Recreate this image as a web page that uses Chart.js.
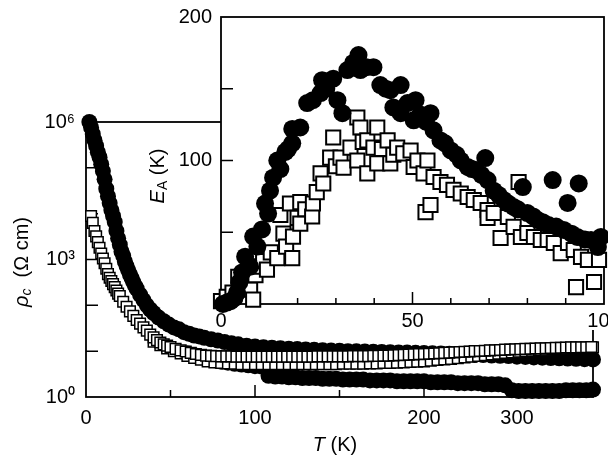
<!DOCTYPE html>
<html>
<head>
<meta charset="utf-8">
<script src="https://cdn.jsdelivr.net/npm/chart.js@4/dist/chart.umd.min.js"></script>
<style>
  body { margin: 0; background: #fff; }
  #wrap { position: relative; width: 608px; height: 461px; }
  #main { position: absolute; left: 0; top: 0; }
  #inset { position: absolute; left: 130px; top: 0; }
</style>
</head>
<body>
<div id="wrap">
  <canvas id="main" width="608" height="461"></canvas>
  <canvas id="inset" width="478" height="340"></canvas>
</div>
<script>
// ---- main plot: rho_c (Ohm cm) vs T (K) ----
// filled circles, upper branch
var circUpT = [2,3,4,5,6,7,8,9,10,11,12,13,14,15,16,17,18,19,20,21,22,23,24,25,26,27,28,29,30,
  32,34,36,38,40,43,46,49,52,55,58,61,64,67,70,74,78,82,86,90,
  95,100,105,110,115,120,125,130,135,140,145,150,155,160,165,170,175,180,185,190,195,200,
  205,210,215,220,225,230,235,240,245,250,255,260,265,270,275,280,285,290,295,300];
var circUpRho = [1.0e6,7.6e5,5.5e5,4.0e5,3.0e5,2.2e5,1.7e5,1.2e5,8.5e4,5.6e4,3.5e4,2.4e4,1.7e4,1.2e4,8.9e3,6.6e3,4.2e3,2.9e3,2.1e3,1.5e3,
  1.2e3,910,720,580,470,390,320,270,230,
  170,130,100,81,68,54,45,38,33,30,26,24,22,21,19.5,18.2,17,15.8,14.8,14.1,
  13.2,12.6,12.2,11.9,11.6,11.3,11.1,10.9,10.7,10.5,10.3,10.2,10.0,9.9,9.8,9.7,9.6,9.5,9.4,9.3,9.2,9.1,
  9.0,8.9,8.8,8.6,8.5,8.3,8.2,8.0,7.9,7.8,7.6,7.5,7.3,7.2,7.1,7.0,6.9,6.8,6.7,6.6];

// filled circles, lower branch (steps near 107 K and 250 K)
var circLoT = [60,64,68,72,76,80,84,88,92,96,100,104,
  108,112,116,120,124,128,132,136,140,144,148,152,156,160,164,168,172,176,180,184,188,192,196,200,
  204,208,212,216,220,224,228,232,236,240,244,248,
  252,256,260,264,268,272,276,280,284,288,292,296,300];
var circLoRho = [8.9,8.1,7.4,6.8,6.3,5.9,5.6,5.3,5.1,4.9,4.7,4.6,
  2.9,2.8,2.8,2.7,2.7,2.6,2.6,2.6,2.5,2.5,2.5,2.4,2.4,2.4,2.4,2.3,2.3,2.3,2.3,2.2,2.2,2.2,2.2,2.2,
  2.1,2.1,2.1,2.1,2.0,2.0,2.0,2.0,1.9,1.9,1.9,1.8,
  1.4,1.35,1.35,1.35,1.35,1.35,1.35,1.35,1.4,1.4,1.4,1.4,1.45];

// open squares, upper row
var sqUpT = [3,4,5,6,7,8,9,10,11,12,13,14,15,16,17,18,19,20,
  22,24,26,28,30,32,34,36,38,40,42,44,46,48,50,
  53,56,59,62,65,68,71,74,77,80,
  83,86,89,92,95,98,101,104,107,110,113,116,119,122,125,128,131,134,137,140,
  143,146,149,152,155,158,161,164,167,170,173,176,179,182,185,188,191,194,197,200,
  203,206,209,212,215,218,221,224,227,230,233,236,239,242,245,248,251,254,257,260,
  263,266,269,272,275,278,281,284,287,290,293,296,299];
var sqUpRho = [8.9e3,6.3e3,4.2e3,3.2e3,2.4e3,1.8e3,1.35e3,1.05e3,830,630,480,400,340,290,250,210,180,160,
  120,93,74,59,48,40,33,28,23,20,17.4,15.5,14.1,13.2,12.3,
  11.2,10.4,9.8,9.2,8.7,8.3,8.0,7.9,7.8,7.7,
  7.7,7.7,7.6,7.6,7.6,7.6,7.6,7.6,7.6,7.6,7.6,7.6,7.6,7.6,7.6,7.6,7.6,7.6,7.7,7.7,
  7.7,7.7,7.7,7.7,7.7,7.8,7.8,7.8,7.8,7.9,7.9,8.0,8.0,8.1,8.2,8.3,8.4,8.5,8.6,8.7,
  8.8,8.9,9.0,9.2,9.3,9.4,9.6,9.7,9.8,10.0,10.1,10.2,10.4,10.5,10.6,10.8,10.9,11.0,11.1,11.2,
  11.3,11.4,11.5,11.6,11.7,11.8,11.9,12.0,12.1,12.1,12.2,12.2,12.3];

// open squares, lower row
var sqLoT = [40,44,48,52,56,60,64,68,72,76,80,84,88,92,96,100,104,108,112,116,
  120,124,128,132,136,140,144,148,152,156,160,164,168,172,176,180,184,188,192,196,
  200,204,208,212,216,220,224,228,232,236,240,244,248,252,256,260,264,268,272,276,
  280,284,288,292,296,300];
var sqLoRho = [16,13.5,11.5,10,8.9,7.9,7.1,6.5,6.0,5.7,5.5,5.4,5.3,5.2,5.2,5.2,5.2,5.2,5.2,5.2,
  5.2,5.2,5.2,5.2,5.2,5.2,5.2,5.2,5.3,5.3,5.3,5.3,5.4,5.4,5.5,5.5,5.6,5.7,5.8,5.9,
  6.0,6.2,6.4,6.6,6.8,7.0,7.3,7.6,7.9,8.2,8.5,8.8,9.1,9.4,9.7,10.0,10.3,10.5,10.7,10.9,
  11.1,11.3,11.5,11.7,11.9,12.1];

var mainXLabelVals = [0, 100, 200, 255];
var mainXLabels = ['0', '100', '200', '300'];
var mainXMajorMarks = [100, 200];
var mainXMinorMarks = [50, 150, 250];
var mainYLabelVals = [1, 1e3, 1e6];
var mainYLabels = ['10\u2070', '10\u00b3', '10\u2076'];
var mainYMarks = [10, 100, 1e3, 1e4, 1e5];

// ---- inset: E_A (K) vs T (K) ----
var insetCircT = [0.5,1.5,2.5,3.5,4.2,4.8,5.5,6.3,7.6,8.4,9.5,10.7,11.5,12.3,12.8,13.6,14.7,15.5,16.8,17.5,
  18.6,18.6,20.7,22.5,24,26,26.4,27.5,29.3,30.4,31.7,33,34.5,35.9,36.4,38,39.8,41.6,43,44.2,
  45,46.9,46.9,48.7,50.3,50.8,52,53.5,54.7,55.5,57.3,58.5,60,61.5,62.6,64.4,65.5,66.5,68,69,
  69.6,71.2,72.5,73.8,75,76.4,77.5,78.8,80,81.5,82.7,84,85.5,86.6,87.5,89.5,90.5,91.5,93,93.4,
  95,96.6,98.4,99.2];
var insetCircE = [0,1,2,4,8,15,22,33,26,47,40,52,70,63,79,88,100,94,106,108,
  112,122,123,140,142,147,156,150,157,142,133,163,168,173.5,163,165,165,152.6,150,149,
  137,152.6,133,140,128,142,132,127,133,121,114,112,107,104,100,95.5,94,93.4,90,101.7,
  86.4,79,76,72.5,70,67.6,66,81.5,63.4,61,58.5,57,55,86.4,54,51.6,70.4,49,46.7,84,
  45,44.6,39.7,46.7];
var insetSqT = [0,1.5,3,4.5,5.5,7.6,8,8.4,9,10,11,12,13,14.7,15.5,16.3,17,18,18.6,18.8,
  20,20.7,20.7,22,23.8,24,25,26,26.7,28.5,29.3,30,31.2,32,33.8,35.6,35.6,36.4,37,38.2,
  38.2,39.8,40.8,40.8,42,43.5,44.2,45,46,47.6,49.5,50.3,51.3,52.9,53.4,53.9,54.7,55.5,57.3,59,
  60.7,62.6,64.4,66,67.8,69.6,69.6,71.2,73,74.9,76.4,77.7,78.3,80,81.7,83.5,85.3,86.9,88.7,90.6,
  92.1,92.7,94,95.8,97.4,98.7];
var insetSqE = [2,5,8,19,12,10,26,3,20,26,30,24,36,32,62,49,40,70,32,47,
  60,56,71,66,61,70,78,91,84,102,116,96,102,95,109,130,100,123,113,91,
  114,109,123,98,108,114,98,104,109,105,107,95.5,100,91,64,100,69,88.5,85,83,
  79.5,77,74.6,72.5,70.4,65.5,60,63.4,46,60.6,53.7,85,46.7,49.5,46.7,44.6,44.6,42.5,35.5,42.5,
  37.6,11.8,32.8,30.7,15.3,30.7];

var insetXLabelVals = [0, 50, 100];
var insetYLabelVals = [100, 200];
var insetXMinorMarks = [10,20,30,40,60,70,80,90];
var insetXMajorMarks = [50];
var insetYMarks = [50, 100, 150];

var FONT = '"Liberation Sans", Arial, sans-serif';

function pairs(xs, ys) {
  var out = [];
  for (var i = 0; i < xs.length; i++) out.push({x: xs[i], y: ys[i]});
  return out;
}

// mixed italic / subscript text
function richText(ctx, parts, cx, cy, angle) {
  ctx.save();
  ctx.translate(cx, cy);
  ctx.rotate(angle);
  ctx.textBaseline = 'middle';
  ctx.fillStyle = '#000';
  var w = 0;
  parts.forEach(function(p){ ctx.font = p.font; p.w = ctx.measureText(p.text).width; w += p.w; });
  var x = -w / 2;
  parts.forEach(function(p){ ctx.font = p.font; ctx.fillText(p.text, x, p.dy || 0); x += p.w; });
  ctx.restore();
}

// no extra side padding for overhanging tick labels
function noSidePad(s) {
  s.paddingLeft = 0; s.paddingRight = 0; s.paddingTop = 0; s.paddingBottom = 0;
}

var mainDecor = {
  id: 'mainDecor',
  beforeDatasetsDraw: function(chart) {
    var ctx = chart.ctx, a = chart.chartArea;
    var xs = chart.scales.x, ys = chart.scales.y;
    ctx.save();
    ctx.strokeStyle = '#000';
    ctx.lineWidth = 1.8;
    ctx.strokeRect(a.left, a.top, a.right - a.left, a.bottom - a.top);
    ctx.lineWidth = 1.5;
    ctx.beginPath();
    mainXMajorMarks.forEach(function(v){ var p = xs.getPixelForValue(v); ctx.moveTo(p, a.bottom); ctx.lineTo(p, a.bottom - 12); });
    mainXMinorMarks.forEach(function(v){ var p = xs.getPixelForValue(v); ctx.moveTo(p, a.bottom); ctx.lineTo(p, a.bottom - 7); });
    mainYMarks.forEach(function(v){ var p = ys.getPixelForValue(v); ctx.moveTo(a.left, p); ctx.lineTo(a.left + 12, p); });
    ctx.stroke();
    ctx.restore();
  },
  afterDraw: function(chart) {
    var ctx = chart.ctx;
    richText(ctx, [
      {text: '\u03c1', font: 'italic 20px ' + FONT},
      {text: 'c', font: 'italic 14px ' + FONT, dy: 5},
      {text: '  (\u03a9 cm)', font: '20px ' + FONT}
    ], 22, 262, -Math.PI / 2);
    richText(ctx, [
      {text: 'T', font: 'italic 20px ' + FONT},
      {text: ' (K)', font: '20px ' + FONT}
    ], 335, 445, 0);
  }
};

var insetDecor = {
  id: 'insetDecor',
  beforeDraw: function(chart) {
    var ctx = chart.ctx, a = chart.chartArea;
    ctx.save();
    ctx.fillStyle = '#fff';
    ctx.fillRect(a.left, 0, chart.width - a.left, a.bottom + 26);
    ctx.restore();
  },
  beforeDatasetsDraw: function(chart) {
    var ctx = chart.ctx, a = chart.chartArea;
    var xs = chart.scales.x, ys = chart.scales.y;
    ctx.save();
    ctx.strokeStyle = '#000';
    ctx.lineWidth = 1.8;
    ctx.strokeRect(a.left, a.top, a.right - a.left, a.bottom - a.top);
    ctx.lineWidth = 1.5;
    ctx.beginPath();
    insetXMajorMarks.forEach(function(v){ var p = xs.getPixelForValue(v); ctx.moveTo(p, a.bottom); ctx.lineTo(p, a.bottom - 12); });
    insetXMinorMarks.forEach(function(v){ var p = xs.getPixelForValue(v); ctx.moveTo(p, a.bottom); ctx.lineTo(p, a.bottom - 6); });
    insetYMarks.forEach(function(v){ var p = ys.getPixelForValue(v); ctx.moveTo(a.left, p); ctx.lineTo(a.left + 12, p); });
    ctx.stroke();
    ctx.restore();
  },
  afterDraw: function(chart) {
    richText(chart.ctx, [
      {text: 'E', font: 'italic 20px ' + FONT},
      {text: 'A', font: '14px ' + FONT, dy: 5},
      {text: ' (K)', font: '20px ' + FONT}
    ], 28, 176, -Math.PI / 2);
  }
};

var tickFont = {family: FONT, size: 20};

var mainChart = new Chart(document.getElementById('main'), {
  type: 'scatter',
  data: {
    datasets: [
      {data: pairs(sqUpT, sqUpRho), pointStyle: 'rect', pointRadius: 7.5, borderColor: '#000', backgroundColor: '#fff', borderWidth: 1.5},
      {data: pairs(sqLoT, sqLoRho), pointStyle: 'rect', pointRadius: 7.5, borderColor: '#000', backgroundColor: '#fff', borderWidth: 1.5},
      {data: pairs(circUpT, circUpRho), pointStyle: 'circle', pointRadius: 8, borderWidth: 0, backgroundColor: '#000', borderColor: '#000'},
      {data: pairs(circLoT, circLoRho), pointStyle: 'circle', pointRadius: 8, borderWidth: 0, backgroundColor: '#000', borderColor: '#000'}
    ]
  },
  options: {
    responsive: false,
    animation: false,
    clip: false,
    layout: {autoPadding: false, padding: {left: 0, top: 122, right: 15, bottom: 0}},
    plugins: {legend: {display: false}, tooltip: {enabled: false}},
    elements: {point: {hoverRadius: 0}},
    scales: {
      x: {
        type: 'linear', min: 0, max: 300,
        grid: {display: false, drawTicks: false},
        border: {display: false},
        afterBuildTicks: function(s){ s.ticks = mainXLabelVals.map(function(v){ return {value: v}; }); },
        afterFit: function(s){ s.height = 64; noSidePad(s); },
        ticks: {
          autoSkip: false, maxRotation: 0, padding: 9, color: '#000', font: tickFont,
          callback: function(v, i){ return mainXLabels[i]; }
        }
      },
      y: {
        type: 'logarithmic', min: 1, max: 1e6,
        grid: {display: false, drawTicks: false},
        border: {display: false},
        afterBuildTicks: function(s){ s.ticks = mainYLabelVals.map(function(v){ return {value: v}; }); },
        afterFit: function(s){ s.width = 86; noSidePad(s); },
        ticks: {
          autoSkip: false, padding: 11, color: '#000', font: tickFont,
          callback: function(v, i){ return mainYLabels[i]; }
        }
      }
    }
  },
  plugins: [mainDecor]
});

var insetChart = new Chart(document.getElementById('inset'), {
  type: 'scatter',
  data: {
    datasets: [
      {data: pairs(insetCircT, insetCircE), pointStyle: 'circle', pointRadius: 9, borderWidth: 0, backgroundColor: '#000', borderColor: '#000'},
      {data: pairs(insetSqT, insetSqE), pointStyle: 'rect', pointRadius: 10, borderColor: '#000', backgroundColor: '#fff', borderWidth: 2}
    ]
  },
  options: {
    responsive: false,
    animation: false,
    clip: false,
    layout: {autoPadding: false, padding: {left: 0, top: 17, right: 4, bottom: 0}},
    plugins: {legend: {display: false}, tooltip: {enabled: false}},
    elements: {point: {hoverRadius: 0}},
    scales: {
      x: {
        type: 'linear', min: 0, max: 100,
        grid: {display: false, drawTicks: false},
        border: {display: false},
        afterBuildTicks: function(s){ s.ticks = insetXLabelVals.map(function(v){ return {value: v}; }); },
        afterFit: function(s){ s.height = 36; noSidePad(s); },
        ticks: {autoSkip: false, maxRotation: 0, padding: 5, color: '#000', font: tickFont}
      },
      y: {
        type: 'linear', min: 0, max: 200,
        grid: {display: false, drawTicks: false},
        border: {display: false},
        afterBuildTicks: function(s){ s.ticks = insetYLabelVals.map(function(v){ return {value: v}; }); },
        afterFit: function(s){ s.width = 91; noSidePad(s); },
        ticks: {autoSkip: false, padding: 9, color: '#000', font: tickFont}
      }
    }
  },
  plugins: [insetDecor]
});
</script>
</body>
</html>
